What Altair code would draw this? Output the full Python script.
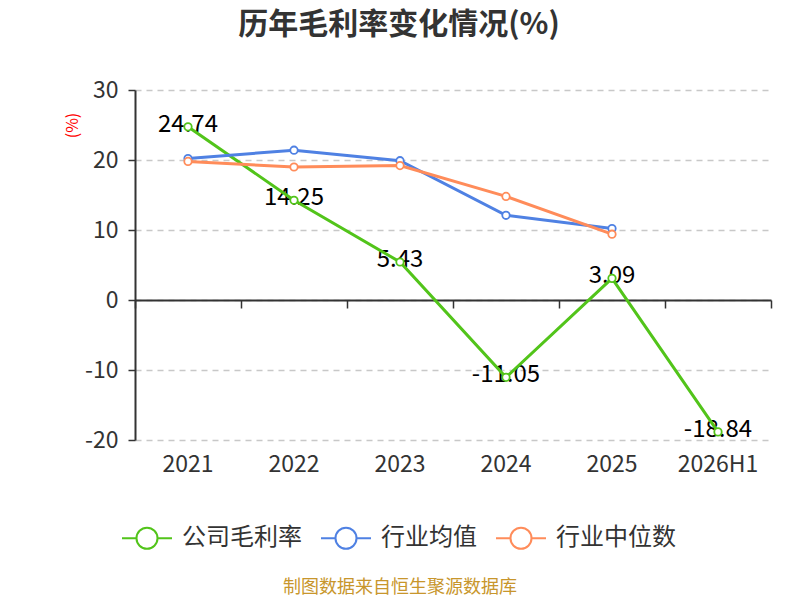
import altair as alt
import pandas as pd

years = ["2021", "2022", "2023", "2024", "2025", "2026H1"]
company = [24.74, 14.25, 5.43, -11.05, 3.09, -18.84]
ind_avg = [20.2, 21.4, 19.9, 12.1, 10.2, None]
ind_med = [19.8, 19.0, 19.2, 14.8, 9.4, None]
series_names = ["公司毛利率", "行业均值", "行业中位数"]
series_colors = ["#52c41a", "#4f81e3", "#ff8c5a"]
y_ticks = [-20, -10, 0, 10, 20, 30]
title_text = "历年毛利率变化情况(%)"
footer_text = "制图数据来自恒生聚源数据库"
unit_text = "(%)"

rows = []
for name, vals in zip(series_names, [company, ind_avg, ind_med]):
    for yr, v in zip(years, vals):
        if v is not None:
            rows.append({"year": yr, "series": name, "value": v})
df = pd.DataFrame(rows)
df_company = df[df["series"] == series_names[0]].copy()
df_company["label"] = df_company["value"].map(lambda v: f"{v:.2f}")

FONT = "Noto Sans CJK SC"

xscale = alt.Scale(type="band", domain=years, paddingInner=0, paddingOuter=0)
yscale = alt.Scale(domain=[-20, 30], nice=False, zero=False)

x_labels = alt.X("year:N", scale=xscale, sort=years,
                 axis=alt.Axis(orient="bottom", domain=False, ticks=False, labelAngle=0,
                               labelFontSize=23, labelColor="#333", labelPadding=13,
                               labelFont=FONT, title=None, grid=False))
x_none = alt.X("year:N", scale=xscale, sort=years, axis=None)
x_zero = alt.X("year:N", scale=xscale, sort=years,
               axis=alt.Axis(orient="bottom", offset=-140, labels=False, domain=True,
                             domainColor="#333", domainWidth=2, ticks=True, tickBand="extent",
                             tickSize=8, tickColor="#333", tickWidth=1.5, title=None, grid=False))

y_axis = alt.Y("value:Q", scale=yscale,
               axis=alt.Axis(values=y_ticks, domain=True, domainColor="#333", domainWidth=2,
                             ticks=True, tickSize=7, tickColor="#333", tickWidth=1.5,
                             labelFontSize=23, labelColor="#333", labelPadding=10, labelFont=FONT,
                             labelExpr="replace(datum.label, '\u2212', '-')",
                             grid=True, gridColor="#c8c8c8", gridDash=[6, 5], gridWidth=1.5,
                             title=unit_text, titleColor="red", titleFontSize=16,
                             titleFontWeight="normal", titleFont=FONT, titleAngle=-90,
                             titleX=-63, titleY=35, titleAlign="center", titleBaseline="middle"))

legend_path = ("M-1,0L-0.42,0M0.42,0L1,0M-0.42,0A0.42,0.42,0,1,1,0.42,0"
               "A0.42,0.42,0,1,1,-0.42,0")
color_scale = alt.Scale(domain=series_names, range=series_colors)
color = alt.Color("series:N", scale=color_scale, sort=series_names,
                  legend=alt.Legend(orient="none", legendX=-14, legendY=422, direction="horizontal",
                                    title=None, symbolType=legend_path, symbolSize=2500,
                                    symbolStrokeWidth=2, symbolFillColor="white",
                                    labelFontSize=24, labelColor="#333", labelFont=FONT,
                                    labelOffset=9, columnPadding=15, symbolOffset=0))

axis_layer = alt.Chart(df).mark_point(opacity=0).encode(x=x_zero, y=y_axis)

labels = alt.Chart(df_company).mark_text(fontSize=24, font=FONT, color="#000",
                                         baseline="middle", dy=-2).encode(
    x=x_none, y=y_axis, text="label:N")

lines = alt.Chart(df).mark_line(strokeWidth=3).encode(x=x_labels, y=y_axis, color=color)

points = alt.Chart(df).mark_point(shape="circle", size=55, strokeWidth=1.8, fill="white",
                                  filled=False, opacity=1).encode(
    x=x_none, y=y_axis, color=color)

footer = alt.Chart(pd.DataFrame({"t": [footer_text]})).mark_text(
    fontSize=18, font=FONT, color="#c8962c", baseline="middle", align="center").encode(
    text="t:N", x=alt.value(265), y=alt.value(498))

title = alt.Chart(pd.DataFrame({"t": [title_text]})).mark_text(
    fontSize=30, font=FONT, fontWeight="bold", color="#333", baseline="middle",
    align="center").encode(text="t:N", x=alt.value(264), y=alt.value(-65))

chart = alt.layer(axis_layer, labels, lines, points, footer, title).resolve_axis(
    x="independent").properties(
    width=636, height=350,
    autosize=alt.AutoSizeParams(type="none"),
    padding={"left": 127, "top": 82, "right": 21, "bottom": 158},
).configure_view(stroke=None)

chart.save("out.html", embed_options={"renderer": "svg", "actions": False})
